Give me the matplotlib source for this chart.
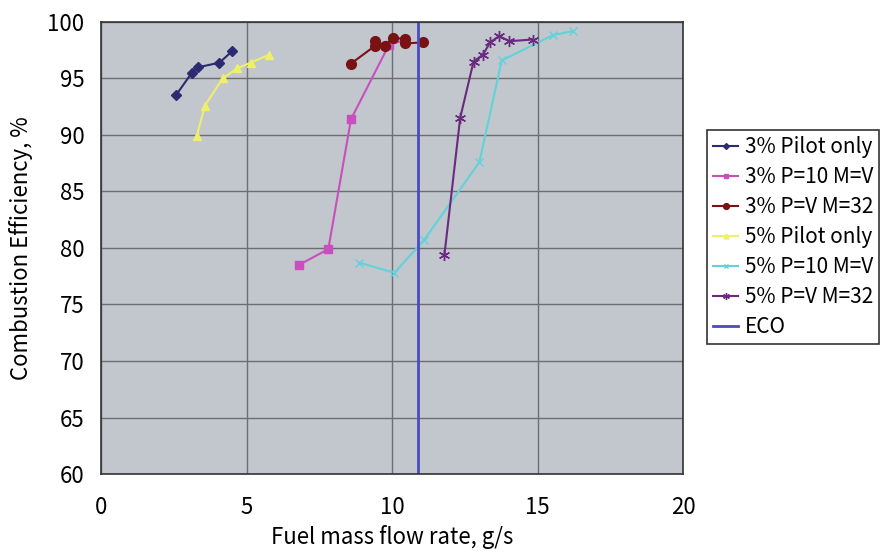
"""Combustion efficiency versus fuel mass flow rate, pilot/main staging cases."""

import matplotlib

matplotlib.use("Agg")
import matplotlib.pyplot as plt

plt.rcParams["font.family"] = ["Noto Sans CJK JP", "DejaVu Sans"]

# 3% Pilot only
pilot3_x = [2.57, 3.12, 3.35, 4.07, 4.50]
pilot3_y = [93.5, 95.5, 96.0, 96.4, 97.4]

# 3% P=10 M=V
p10_3_x = [6.80, 7.81, 8.59, 9.90, 10.45]
p10_3_y = [78.5, 79.9, 91.4, 98.0, 98.4]

# 3% P=V M=32
pv_3_x = [8.58, 9.42, 9.42, 9.76, 10.02, 10.45, 10.45, 11.08]
pv_3_y = [96.3, 97.9, 98.3, 97.9, 98.6, 98.5, 98.1, 98.2]

# 5% Pilot only
pilot5_x = [3.29, 3.57, 4.18, 4.68, 5.14, 5.78]
pilot5_y = [89.9, 92.6, 95.0, 95.9, 96.4, 97.1]

# 5% P=10 M=V
p10_5_x = [8.88, 10.08, 11.10, 13.00, 13.77, 15.54, 16.23]
p10_5_y = [78.7, 77.8, 80.7, 87.6, 96.6, 98.85, 99.2]

# 5% P=V M=32
pv_5_x = [11.80, 12.34, 12.80, 13.12, 13.37, 13.68, 14.03, 14.83]
pv_5_y = [79.4, 91.5, 96.5, 97.1, 98.2, 98.75, 98.3, 98.45]

eco_x = 10.9

series = [
    ("3% Pilot only", pilot3_x, pilot3_y, "#2c2a70", "D", 5),
    ("3% P=10 M=V", p10_3_x, p10_3_y, "#c84fbd", "s", 6),
    ("3% P=V M=32", pv_3_x, pv_3_y, "#7a1214", "o", 7),
    ("5% Pilot only", pilot5_x, pilot5_y, "#eef06a", "^", 6),
    ("5% P=10 M=V", p10_5_x, p10_5_y, "#62d2da", "x", 6),
    ("5% P=V M=32", pv_5_x, pv_5_y, "#6a2a7e", (6, 2, 0), 8),
]

fig = plt.figure(figsize=(8.82, 5.54), dpi=100)
ax = fig.add_axes([0.1145, 0.1444, 0.660, 0.8159])
ax.set_facecolor("#c2c6cd")

for label, xs, ys, color, marker, size in series:
    ax.plot(xs, ys, color=color, marker=marker, markersize=size,
            markeredgecolor=color, linewidth=1.5, label=label)

ax.axvline(eco_x, color="#4b4bc0", linewidth=2, label="ECO")

ax.set_xlim(0, 20)
ax.set_ylim(60, 100)
ax.set_xticks([0, 5, 10, 15, 20])
ax.set_yticks(range(60, 101, 5))
ax.grid(True, color="#6e6e6e", linewidth=1)
ax.set_axisbelow(True)
ax.tick_params(axis="x", length=0, labelsize=16, pad=16)
ax.tick_params(axis="y", length=0, labelsize=16, pad=12)
for spine in ax.spines.values():
    spine.set_color("#333333")
    spine.set_linewidth(1.2)

ax.set_xlabel("Fuel mass flow rate, g/s", fontsize=16, labelpad=4)
ax.set_ylabel("Combustion Efficiency, %", fontsize=16, labelpad=10)

legend = ax.legend(loc="upper left", bbox_to_anchor=(0.8016, 0.765),
                   bbox_transform=fig.transFigure, fontsize=15,
                   frameon=True, fancybox=False, edgecolor="#333333",
                   framealpha=1, handlelength=1.2, handletextpad=0.3,
                   labelspacing=0.38, borderpad=0.3, borderaxespad=0,
                   markerscale=0.6)
legend.get_frame().set_linewidth(1.2)

fig.savefig("out.png", dpi=100)
